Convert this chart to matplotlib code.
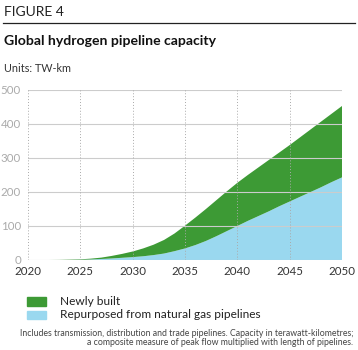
import numpy as np
import matplotlib
matplotlib.use("Agg")
import matplotlib.pyplot as plt
from matplotlib.patches import Rectangle
from matplotlib.lines import Line2D

plt.rcParams['font.family'] = ['Lato', 'DejaVu Sans']

# data (TW-km)
years = list(range(2020, 2051))
repurposed = [0, 0, 0, 0, 0, 0.5, 1.5, 3, 4.5, 6.5, 8.5, 11, 14.5, 19, 26, 34,
              44, 56, 70, 85, 100, 115, 129, 143, 158, 172, 186, 200, 214, 229, 243]
newly_built = [0, 0, 0, 0.3, 1, 1.5, 2.5, 4, 7.5, 11.5, 16.5, 23, 30.5, 40, 52, 67,
               81, 94, 106, 117, 127, 135, 143, 151, 158, 166, 175, 184, 193, 201, 210]
labels = ["Newly built", "Repurposed from natural gas pipelines"]
xticks = [2020, 2025, 2030, 2035, 2040, 2045, 2050]
yticks = [0, 100, 200, 300, 400, 500]

green = "#3d9a35"
blue = "#9ad8ef"

fig = plt.figure(figsize=(3.58, 3.5), dpi=100)
W, H = 358.0, 350.0

# header
fig.text(4 / W, 1 - 12 / H, "FIGURE 4", fontsize=10, color="#222222", va="center")
fig.add_artist(Line2D([3 / W, 355 / W], [1 - 23 / H, 1 - 23 / H], color="#222222", lw=0.9))
fig.text(4 / W, 1 - 41 / H, "Global hydrogen pipeline capacity", fontsize=10.1,
         fontweight="bold", color="#111111", va="center")
fig.text(4 / W, 1 - 69 / H, "Units: TW-km", fontsize=7.8, color="#333333", va="center")

ax = fig.add_axes([28 / W, 1 - 260 / H, 314 / W, 170 / H])
ax.stackplot(years, repurposed, newly_built, colors=[blue, green], lw=0)
ax.set_xlim(2020, 2050)
ax.set_ylim(0, 500)
ax.set_xticks(xticks)
ax.set_yticks(yticks)
ax.tick_params(axis='y', labelsize=8.3, colors="#aaaaaa", length=0, pad=5)
ax.tick_params(axis='x', labelsize=8.3, labelcolor="#333333", length=0, pad=4)
for s in ax.spines.values():
    s.set_visible(False)
for y in yticks:
    ax.axhline(y, color="#cccccc", lw=0.8, zorder=3)
for x in xticks:
    ax.axvline(x, color="#aaaaaa", lw=0.7, ls=(0, (1, 2)), zorder=3)

# legend
for i, (lab, c) in enumerate(zip(labels, [green, blue])):
    yc = 1 - (301.5 + i * 13.5) / H
    fig.add_artist(Rectangle((27 / W, yc - 4.2 / H), 19 / W, 8.4 / H, color=c,
                             transform=fig.transFigure))
    fig.text(60 / W, yc, lab, fontsize=8.6, color="#222222", va="center")

fig.text(353 / W, 1 - 333 / H,
         "Includes transmission, distribution and trade pipelines. Capacity in terawatt-kilometres;",
         fontsize=6.3, color="#444444", ha="right", va="center")
fig.text(353 / W, 1 - 342.5 / H,
         "a composite measure of peak flow multiplied with length of pipelines.",
         fontsize=6.3, color="#444444", ha="right", va="center")

fig.savefig("out.png", dpi=100)
